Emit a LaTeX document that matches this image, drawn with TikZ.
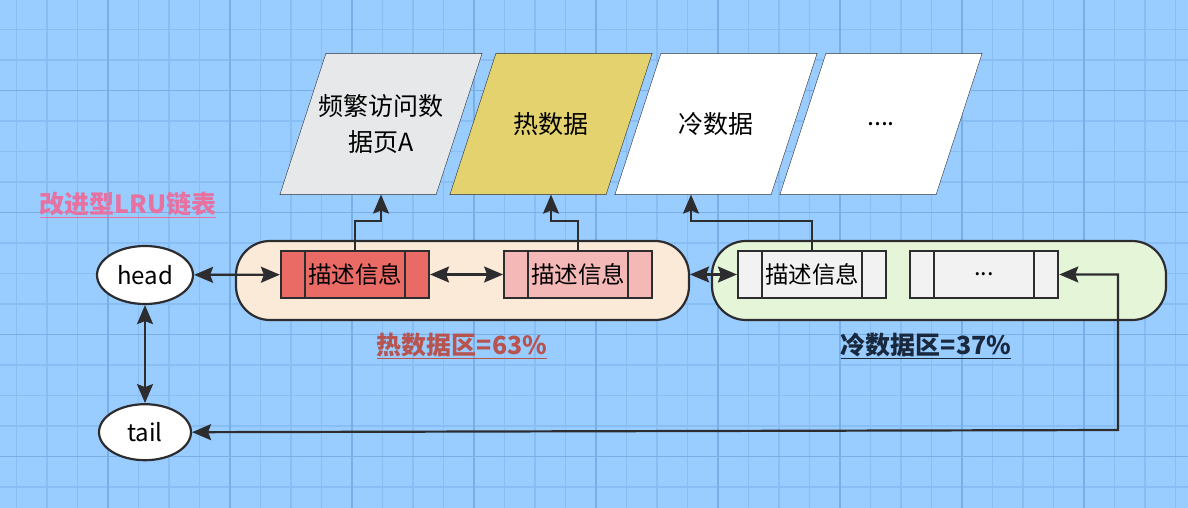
\documentclass[tikz,border=0pt]{standalone}
\usepackage{fontspec}
\setmainfont{Noto Sans CJK SC}
\usetikzlibrary{arrows.meta,positioning,shapes.geometric,backgrounds}

\definecolor{bgblue}{RGB}{153,204,255}
\definecolor{gridminor}{RGB}{136,190,243}
\definecolor{gridmajor}{RGB}{120,175,230}
\definecolor{inkgray}{RGB}{45,45,48}
\definecolor{hotfill}{RGB}{252,234,217}
\definecolor{coldfill}{RGB}{229,245,216}
\definecolor{hotred}{RGB}{234,107,102}
\definecolor{hotpink}{RGB}{244,184,182}
\definecolor{coldgray}{RGB}{242,242,242}
\definecolor{pagegray}{RGB}{230,232,233}
\definecolor{pageyellow}{RGB}{227,210,110}
\definecolor{titlepink}{RGB}{231,113,160}
\definecolor{hotlbl}{RGB}{184,84,80}
\definecolor{coldlbl}{RGB}{25,40,60}

\begin{document}
\begin{tikzpicture}[
  x=1pt, y=-1pt,
  line width=2.2pt,
  zone/.style={draw=inkgray, rounded corners=34pt, minimum width=453pt, minimum height=79pt, inner sep=0pt},
  entry/.style={draw=inkgray, minimum width=148pt, minimum height=47pt, inner sep=0pt, font=\fontsize{23.5}{26}\selectfont},
  page/.style={minimum width=200pt, minimum height=139pt, inner sep=0pt, align=center, font=\fontsize{25}{36}\selectfont},
  endpt/.style={ellipse, draw=inkgray, fill=white, inner sep=0pt, font=\fontsize{24}{28}\selectfont},
  lbl/.style={inner sep=0pt, font=\bfseries\fontsize{25}{30}\selectfont},
  arr/.style={{Stealth[length=19pt,width=16pt,inset=3pt]}-{Stealth[length=19pt,width=16pt,inset=3pt]}, draw=inkgray},
  uparr/.style={-{Stealth[length=19pt,width=16pt,inset=3pt]}, draw=inkgray}
]
\useasboundingbox (0,0) rectangle (1188,508);

\node[zone, fill=hotfill] (hot) at (462.5,280.5) {};
\node[zone, fill=coldfill, minimum width=454pt] (cold) at (939,280.5) {};

\node[entry, fill=hotred] (b1) at (355,274.5) {描述信息};
\node[entry, fill=hotpink, right=73pt of b1] (b2) {描述信息};
\node[entry, fill=coldgray] (cb1) at (812,274.5) {描述信息};
\node[entry, fill=coldgray, right=22pt of cb1] (cb2) {...};
\foreach \b in {b1,b2,cb1,cb2} {
  \draw[draw=inkgray] ([xshift=25pt]\b.north west) -- ([xshift=25pt]\b.south west);
  \draw[draw=inkgray] ([xshift=-25pt]\b.north east) -- ([xshift=-25pt]\b.south east);
}

\node[page] (p1) at (381,124) {频繁访问数\\据页A};
\node[page] (p2) at (551,124) {热数据};
\node[page] (p3) at (716,124) {冷数据};
\node[page] (p4) at (881,124) {....};

\node[endpt, minimum width=96pt, minimum height=58pt] (head) at (145,275) {head};
\node[endpt, minimum width=92pt, minimum height=56pt, below=98pt of head] (tail) {tail};

\node[lbl, text=titlepink] (title) at (128,205) {\underline{改进型LRU链表}};
\node[lbl, text=hotlbl] (hotlbl) at (462,346) {\underline{热数据区=63\%}};
\node[lbl, text=coldlbl] (coldlbl) at (926,346) {\underline{冷数据区=37\%}};

\draw[arr] (head) -- (b1);
\draw[arr] (b1) -- (b2);
\draw[arr] (b2.east -| hot.east) -- (cb1.west);
\draw[arr] (head) -- (tail);
\coordinate (turn) at (1118,430);
\draw[arr] (tail.east) -- (turn) |- (cb2.east);
\draw[uparr] (b1.north) -- ++(0,-29) -| (p1.south);
\draw[uparr] (b2.north) -- ++(0,-29) -| (p2.south);
\draw[uparr] (cb1.north) -- ++(0,-29) -| ([xshift=-25pt]p3.south);

\begin{scope}[on background layer]
\fill[bgblue] (0,0) rectangle (1188,508);
\foreach \gx in {0,...,38} \draw[gridminor, line width=1.3pt] (16.5+30.5*\gx,0) -- (16.5+30.5*\gx,508);
\foreach \gy in {0,...,16} \draw[gridminor, line width=1.3pt] (0,-1+30.5*\gy) -- (1188,-1+30.5*\gy);
\foreach \gx in {0,...,8} \draw[gridmajor, line width=1.8pt] (108+122*\gx,0) -- (108+122*\gx,508);
\foreach \gy in {0,...,3} \draw[gridmajor, line width=1.8pt] (0,90.5+122*\gy) -- (1188,90.5+122*\gy);
\foreach \p/\c in {p1/pagegray,p2/pageyellow,p3/white,p4/white}
  \filldraw[fill=\c, draw=inkgray] ([xshift=46pt]\p.north west) -- (\p.north east) -- ([xshift=-46pt]\p.south east) -- (\p.south west) -- cycle;
\end{scope}
\end{tikzpicture}
\end{document}
